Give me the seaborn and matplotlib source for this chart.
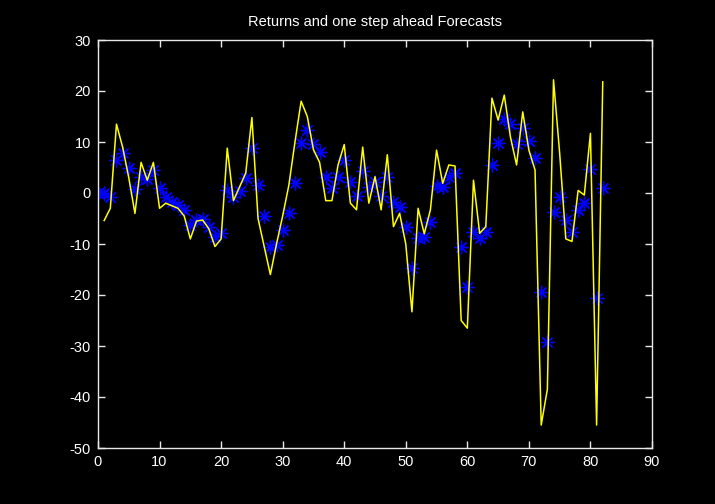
import numpy as np
import pandas as pd
import matplotlib
matplotlib.use("Agg")
import matplotlib.pyplot as plt
import seaborn as sns

title = "Returns and one step ahead Forecasts"

# actual returns (x = 1..82)
returns_x = list(range(1, 83))
returns = [-5.4, -3, 13.5, 9, 3, -4, 6, 2.5, 6, -3,
           -2, -2.5, -3, -4.5, -9, -5.5, -5.3, -7, -10.5, -9,
           8.8, -1.5, 1.2, 3.9, 14.8, -5, -10.5, -16, -10, -4.5,
           1.5, 10, 18, 15, 8.5, 6, -1.5, -1.5, 5.5, 9.5,
           -2, -3.3, 9, -2, 3.2, -3.3, 7.5, -6.6, -4, -10,
           -23.3, -3, -8, -3.3, 8.4, 1.9, 5.5, 5.3, -25, -26.5,
           2.5, -7.9, -6.6, 18.6, 14.3, 19.2, 11, 5.5, 15.9, 8.4,
           4.5, -45.5, -38.5, 22.2, 7.8, -9, -9.5, 0.5, -0.4, 11.7,
           -45.5, 21.8]

# one step ahead forecasts (x = 0..82)
forecast_x = list(range(0, 83))
forecasts = [0, 0, -0.8, 6.5, 7.8, 4.9, 0.8, 3.1, 2.7, 4.5, 0.9,
             -0.7, -1.7, -2.3, -3.3, -6.3, -5.3, -5, -6.6, -8.6, -7.9,
             0.6, -0.8, 0.4, 2.9, 8.8, 1.6, -4.6, -10.5, -10.2, -7.3,
             -4, 2, 9.9, 12.4, 9.7, 8.1, 3.2, 0.9, 3.2, 6.5,
             2.2, -0.6, 4.4, 1.1, 2.2, -0.6, 3.2, -1.7, -2.8, -6.6,
             -14.8, -8.9, -8.6, -5.6, 1.4, 1.1, 3.2, 4, -10.5, -18.5,
             -7.6, -8.9, -7.6, 5.5, 9.9, 14.6, 13.5, 9.6, 12.7, 10.1,
             6.8, -19.4, -29.2, -3.7, -0.8, -5.3, -7.6, -3.3, -2, 4.8,
             -20.5, 0.9]

x_ticks = list(range(0, 91, 10))
y_ticks = list(range(-50, 31, 10))

df_ret = pd.DataFrame({"x": returns_x, "y": returns})
df_fc = pd.DataFrame({"x": forecast_x, "y": forecasts})

plt.rcParams["font.family"] = ["Liberation Sans", "DejaVu Sans"]
plt.rcParams["axes.unicode_minus"] = False

fig = plt.figure(figsize=(7.15, 5.04), dpi=100, facecolor="black")
ax = fig.add_axes([98 / 715, 1 - 448 / 504, (652 - 98) / 715, (448 - 40) / 504])
ax.set_facecolor("black")

sns.scatterplot(data=df_fc, x="x", y="y", ax=ax, marker=(8, 2, 0), s=85,
                color="#0000ff", linewidth=1.0, zorder=2, legend=False)
sns.lineplot(data=df_ret, x="x", y="y", ax=ax, color="#ffff00",
             linewidth=1.1, zorder=3, legend=False)

ax.set_xlim(0, 90)
ax.set_ylim(-50, 30)
ax.set_xticks(x_ticks)
ax.set_yticks(y_ticks)
ax.set_xlabel("")
ax.set_ylabel("")
for s in ax.spines.values():
    s.set_color("#e8e8e8")
    s.set_linewidth(1.0)
ax.tick_params(direction="in", top=True, right=True, length=5, width=1,
               color="#e8e8e8", labelcolor="white", labelsize=10.5, pad=5)
ax.set_title(title, color="white", fontsize=10.5, pad=10)

fig.savefig("out.png", dpi=100, facecolor="black")
